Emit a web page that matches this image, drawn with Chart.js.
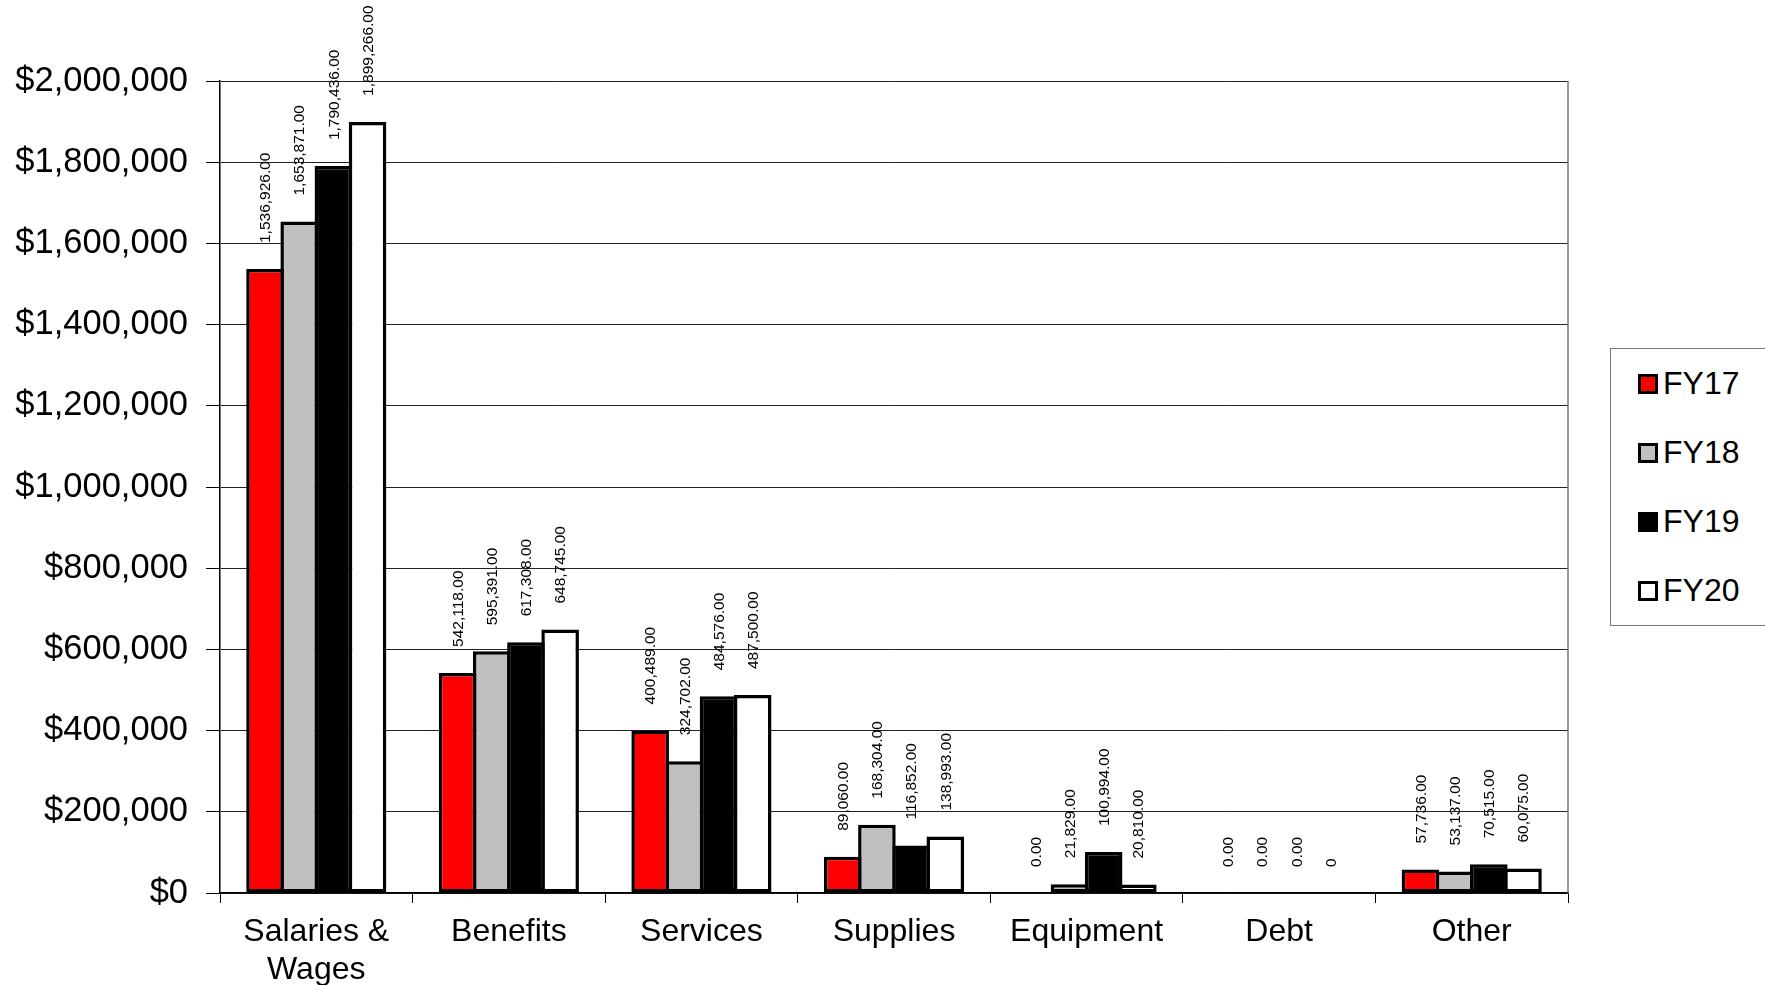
<!DOCTYPE html>
<html>
<head>
<meta charset="utf-8">
<script src="https://cdn.jsdelivr.net/npm/chart.js@4"></script>
<style>
    body { margin: 0; background: #fff; overflow: hidden; }
    #wrap { position: relative; width: 1765px; height: 985px; }
    #legend {
        position: absolute; left: 1610px; top: 348px; width: 200px; height: 276px;
        border: 1px solid #777; background: #fff;
        font-family: "Liberation Sans", Arial, sans-serif; font-size: 32px;
    }
    .item { position: absolute; left: 27px; height: 36px; line-height: 36px; }
    .box { display: inline-block; width: 14px; height: 14px; border: 3px solid #000; vertical-align: middle; margin-right: 5px; position: relative; top: -2px; }
</style>
</head>
<body>
<div id="wrap">
    <canvas id="chart" width="1765" height="985"></canvas>
    <div id="legend"></div>
</div>
<script>
const categories = [['Salaries &', 'Wages'], 'Benefits', 'Services', 'Supplies', 'Equipment', 'Debt', 'Other'];
const seriesNames = ['FY17', 'FY18', 'FY19', 'FY20'];
const fy17 = [1536926, 542118, 400489, 89060, 0, 0, 57736];
const fy18 = [1653871, 595391, 324702, 168304, 21829, 0, 53137];
const fy19 = [1790436, 617308, 484576, 116852, 100994, 0, 70515];
const fy20 = [1899266, 648745, 487500, 138993, 20810, 0, 60075];
const yTicks = [0, 200000, 400000, 600000, 800000, 1000000, 1200000, 1400000, 1600000, 1800000, 2000000];
// the Debt FY20 label shows a bare "0"
const labelOverrides = { '3-5': '0' };

const colors = ['#ff0000', '#c0c0c0', '#000000', '#ffffff'];
const FONT = '"Liberation Sans", Arial, sans-serif';

const money = new Intl.NumberFormat('en-US');
const twoDec = new Intl.NumberFormat('en-US', { minimumFractionDigits: 2, maximumFractionDigits: 2 });

const valueLabels = {
    id: 'valueLabels',
    afterDatasetsDraw(chart) {
        const ctx = chart.ctx;
        ctx.save();
        ctx.fillStyle = '#000';
        ctx.font = '15.5px ' + FONT;
        ctx.textAlign = 'left';
        ctx.textBaseline = 'middle';
        chart.data.datasets.forEach(function (ds, di) {
            chart.getDatasetMeta(di).data.forEach(function (bar, i) {
                const key = di + '-' + i;
                const text = labelOverrides[key] || twoDec.format(ds.data[i]);
                ctx.save();
                ctx.translate(bar.x + 1, bar.y - 26);
                ctx.rotate(-Math.PI / 2);
                ctx.fillText(text, 0, 0);
                ctx.restore();
            });
        });
        ctx.restore();
    }
};

const plotFrame = {
    id: 'plotFrame',
    beforeDatasetsDraw(chart) {
        const a = chart.chartArea;
        const ctx = chart.ctx;
        ctx.save();
        ctx.strokeStyle = '#777';
        ctx.lineWidth = 1.5;
        ctx.beginPath();
        ctx.moveTo(a.right, a.top);
        ctx.lineTo(a.right, a.bottom);
        ctx.stroke();
        ctx.restore();
    }
};

const all = [fy17, fy18, fy19, fy20];
const datasets = seriesNames.map(function (name, k) {
    return {
        label: name,
        data: all[k],
        backgroundColor: colors[k],
        borderColor: '#000',
        borderWidth: 3.5,
        borderSkipped: false,
        categoryPercentage: 0.71,
        barPercentage: 1.1
    };
});

new Chart(document.getElementById('chart'), {
    type: 'bar',
    data: { labels: categories, datasets: datasets },
    plugins: [plotFrame, valueLabels],
    options: {
        responsive: false,
        animation: false,
        layout: { padding: { top: 81, right: 197, left: 0, bottom: 0 } },
        plugins: { legend: { display: false }, tooltip: { enabled: false } },
        scales: {
            x: {
                grid: { offset: true, drawOnChartArea: false, drawTicks: true, tickLength: 10, color: '#000', lineWidth: 1 },
                border: { color: '#000', width: 1.5 },
                ticks: { color: '#000', font: { family: FONT, size: 32 }, padding: 10, maxRotation: 0, autoSkip: false },
                afterFit(scale) { scale.height = 92; }
            },
            y: {
                min: 0,
                max: 2000000,
                afterBuildTicks(scale) { scale.ticks = yTicks.map(function (v) { return { value: v }; }); },
                grid: { color: '#222', lineWidth: 1, tickLength: 14, tickColor: '#000' },
                border: { color: '#000', width: 1.5 },
                ticks: {
                    color: '#000', padding: 18, font: { family: FONT, size: 34.5 },
                    callback: function (v) { return '$' + money.format(v); }
                },
                afterFit(scale) { scale.width = 220; }
            }
        }
    }
});

const legend = document.getElementById('legend');
seriesNames.forEach(function (name, k) {
    const item = document.createElement('div');
    item.className = 'item';
    item.style.top = (16 + k * 69) + 'px';
    item.innerHTML = '<span class="box" style="background:' + colors[k] + '"></span>' + name;
    legend.appendChild(item);
});
</script>
</body>
</html>
